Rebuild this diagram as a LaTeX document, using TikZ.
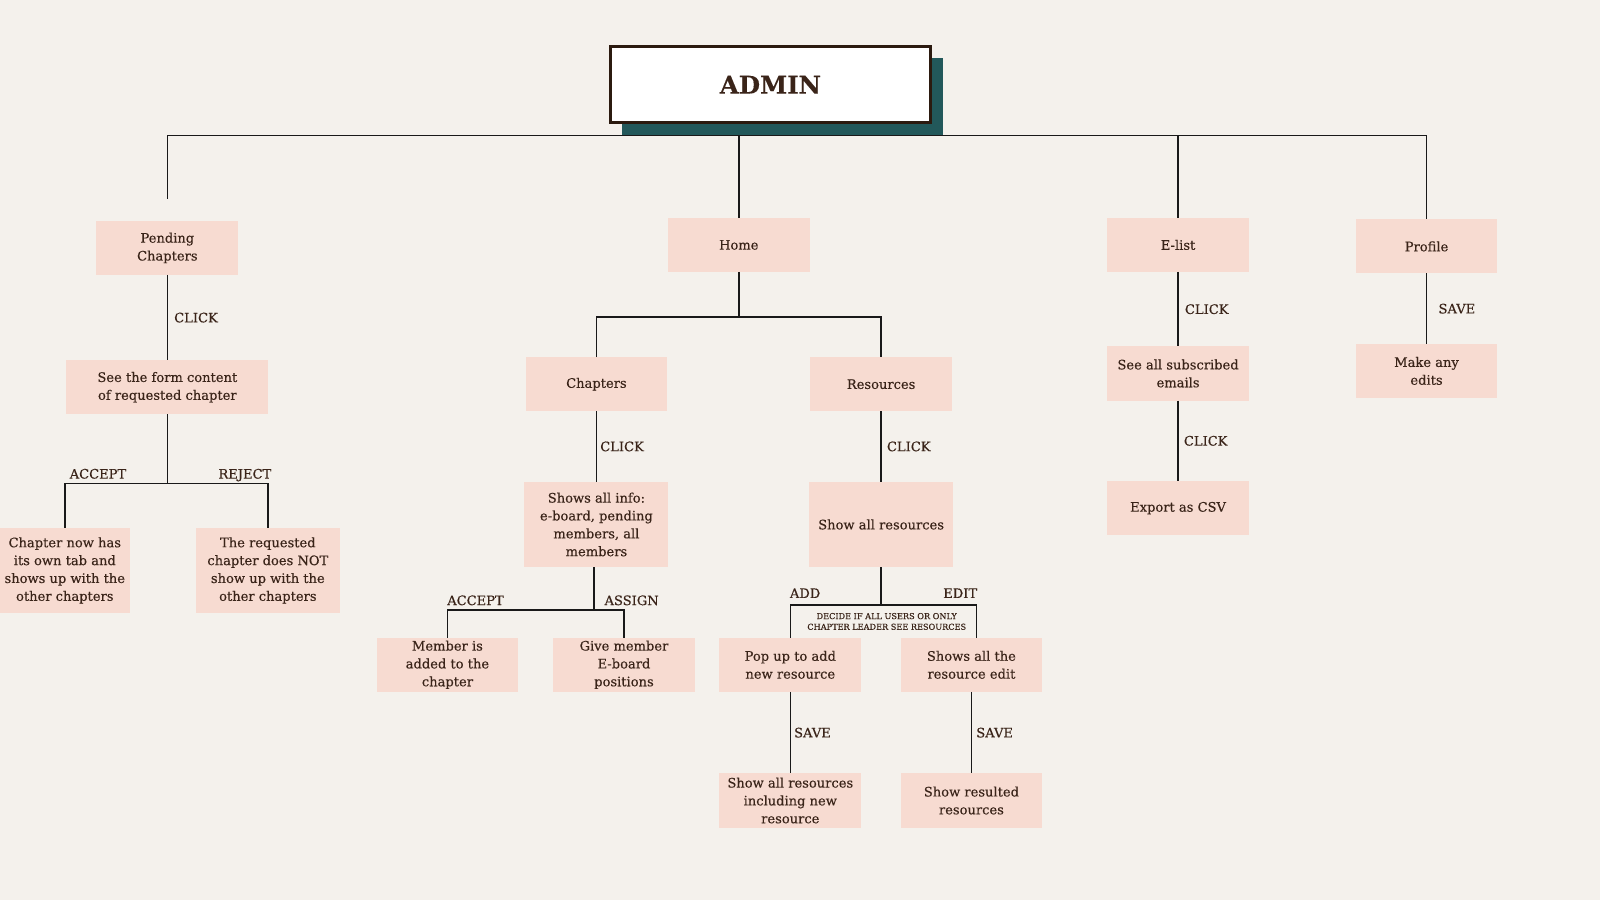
\documentclass[tikz,border=0pt]{standalone}
\usepackage{fontspec}
\setmainfont{DejaVu Serif}[FakeBold = 0.3]
\usetikzlibrary{
    positioning,
    calc
}
\definecolor{paper}{HTML}{F4F1EC}
\definecolor{blush}{HTML}{F7DBD1}
\definecolor{ink}{HTML}{3A2419}
\definecolor{deep teal}{HTML}{22585A}
\definecolor{frame}{HTML}{2B1A0F}
\tikzset {
    screen box/.style = {
        fill = blush, text = ink, align = center,
        minimum width = 139pt, minimum height = 53pt,
        inner sep = 2pt, outer sep = 0pt,
        font = \fontsize{12.8}{17.5}\selectfont
    },
    title box/.style = {
        fill = white, draw = frame, line width = 3pt, text = ink,
        minimum width = 313pt, minimum height = 75pt, outer sep = 0pt,
        font = \fontsize{24}{28}\selectfont\bfseries
    },
    title shadow/.style = {
        fill = deep teal, inner sep = 0pt, outer sep = 0pt,
        minimum width = 314pt, minimum height = 76pt
    },
    wire/.style = {draw = black!90, line width = 1.5pt},
    action label/.style = {
        text = ink, inner sep = 0pt,
        font = \fontsize{12.8}{15}\selectfont
    },
    note label/.style = {
        text = ink, align = center, inner sep = 0pt,
        font = \fontsize{8}{10.5}\selectfont
    }
}

\begin{document}
\begin{tikzpicture}[x = 1pt, y = -1pt]
    \fill [paper] (0, 0) rectangle (1568, 882);
    \useasboundingbox (0, 0) rectangle (1568, 882);
    % title
    \node (shade) [title shadow] at (767, 95) {};
    \node (admin) [title box] at (755, 83) {ADMIN};
    % first level
    \node (pend) [screen box] at (164, 243) {Pending\\Chapters};
    \node (home) [screen box] at (724, 240) {Home};
    \node (elist) [screen box] at (1154.5, 240) {E-list};
    \node (prof) [screen box] at (1398, 241.5) {Profile};
    % pending chapters
    \node (form) [screen box, minimum width = 198pt] at (164, 379.5)
        {See the form content\\of requested chapter};
    \node (acc) [screen box, minimum width = 127pt, minimum height = 84pt] at (63.5, 559)
        {Chapter now has\\its own tab and\\shows up with the\\other chapters};
    \node (rej) [screen box, minimum width = 141pt, minimum height = 84pt] at (262.5, 559)
        {The requested\\chapter does NOT\\show up with the\\other chapters};
    % home
    \node (chap) [screen box] at (584.5, 376.5) {Chapters};
    \node (res) [screen box] at (863.5, 376.5) {Resources};
    \node (info) [screen box, minimum width = 141pt, minimum height = 84pt] at (584.5, 514)
        {Shows all info:\\e-board, pending\\members, all\\members};
    \node (allres) [screen box, minimum width = 141pt, minimum height = 84pt] at (863.5, 514)
        {Show all resources};
    \node (member) [screen box] at (438.5, 651.5) {Member is\\added to the\\chapter};
    \node (eboard) [screen box] at (611.5, 651.5) {Give member\\E-board\\positions};
    \node (popup) [screen box] at (774.5, 651.5) {Pop up to add\\new resource};
    \node (editall) [screen box, minimum width = 138pt] at (952, 651.5) {Shows all the\\resource edit};
    \node (newres) [screen box] at (774.5, 784.5) {Show all resources\\including new\\resource};
    \node (resulted) [screen box, minimum width = 138pt] at (952, 784.5) {Show resulted\\resources};
    % e-list and profile
    \node (subs) [screen box] at (1154.5, 366) {See all subscribed\\emails};
    \node (csv) [screen box] at (1154.5, 498) {Export as CSV};
    \node (edits) [screen box] at (1398, 363.5) {Make any\\edits};

    % top bar
    \coordinate (ptop) at (164, 195);
    \draw [wire] (ptop) |- (shade.south -| prof.north) -- (prof.north);
    \draw [wire] (home.north) -- (home.north |- shade.south);
    \draw [wire] (elist.north) -- (elist.north |- shade.south);

    % pending chapters branch
    \draw [wire] (pend.south) -- node (c1) [action label, right = 6pt] {CLICK} (form.north);
    \coordinate (fsplit) at ($(form.south) + (0, 68)$);
    \draw [wire] (form.south) -- (fsplit);
    \draw [wire] (acc.north) |- (fsplit) -| (rej.north);
    \node (a1) [action label, anchor = base] at (96, 469) {ACCEPT};
    \node (r1) [action label, anchor = base] at (240, 469) {REJECT};

    % home branch
    \coordinate (hsplit) at ($(home.south) + (0, 44)$);
    \draw [wire] (home.south) -- (hsplit);
    \draw [wire] (chap.north) |- (hsplit) -| (res.north);
    \draw [wire] (chap.south) -- node (c2) [action label, right = 3pt] {CLICK} (info.north);
    \draw [wire] (res.south) -- node (c3) [action label, right = 5pt] {CLICK} (allres.north);
    \coordinate (isplit) at ($(info.south) + (-2.5, 42)$);
    \draw [wire] (info.south -| isplit) -- (isplit);
    \draw [wire] (member.north) |- (isplit) -| (eboard.north);
    \node (a2) [action label, anchor = base] at (466, 593) {ACCEPT};
    \node (s1) [action label, anchor = base] at (619, 593) {ASSIGN};
    \coordinate (rsplit) at ($(allres.south) + (0, 37)$);
    \draw [wire] (allres.south) -- (rsplit);
    \draw [wire] (popup.north) |- (rsplit) -| ([xshift = 5pt] editall.north);
    \node (add) [action label, anchor = base] at (789, 586) {ADD};
    \node (edit) [action label, anchor = base] at (941, 586) {EDIT};
    \node (decide) [note label] at (869, 609)
        {DECIDE IF ALL USERS OR ONLY\\CHAPTER LEADER SEE RESOURCES};
    \draw [wire] (popup.south) -- node (v1) [action label, right = 3pt] {SAVE} (newres.north);
    \draw [wire] (editall.south) -- node (v2) [action label, right = 4pt] {SAVE} (resulted.north);

    % e-list and profile branches
    \draw [wire] (elist.south) -- node (c4) [action label, right = 6pt] {CLICK} (subs.north);
    \draw [wire] (subs.south) -- node (c5) [action label, right = 5pt] {CLICK} (csv.north);
    \draw [wire] (prof.south) -- node (v3) [action label, right = 11pt] {SAVE} (edits.north);
\end{tikzpicture}
\end{document}
